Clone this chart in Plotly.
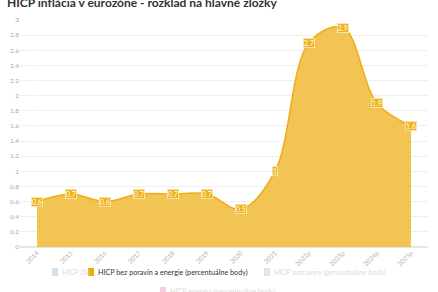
import plotly.graph_objects as go

categories = ["2014", "2015", "2016", "2017", "2018", "2019", "2020", "2021", "2022p", "2023p", "2024p", "2025p"]
core_values = [0.6, 0.7, 0.6, 0.7, 0.7, 0.7, 0.5, 1.0, 2.7, 2.9, 1.9, 1.6]
y_ticks = [0, 0.2, 0.4, 0.6, 0.8, 1, 1.2, 1.4, 1.6, 1.8, 2, 2.2, 2.4, 2.6, 2.8, 3]
y_tick_labels = ["0", "0.2", "0.4", "0.6", "0.8", "1", "1.2", "1.4", "1.6", "1.8", "2", "2.2", "2.4", "2.6", "2.8", "3"]

title_text = "HICP inflácia v eurozóne - rozklad na hlavné zložky"
legend_names = ["HICP (%)", "HICP bez poravín a energie (percentuálne body)",
                "HICP potraviny (percentuálne body)", "HICP energia (percentuálne body)"]
legend_colors = ["#cfe0ee", "#f0ad00", "#d8ecd2", "#f5cde3"]
legend_text_colors = ["#dcdcdc", "#333333", "#dcdcdc", "#dcdcdc"]

W, H = 438, 292
ML, MR, MT, MB = 20, 10, 20, 45
PW, PH = W - ML - MR, H - MT - MB

def px_x(px):
    return (px - ML) / PW

def px_y(py):
    return (H - MB - py) / PH

fig = go.Figure()

fig.add_trace(go.Scatter(x=list(range(len(categories))), y=core_values, name=legend_names[1],
                         mode="lines", line=dict(color="#f0ad12", width=1.5, shape="spline", smoothing=1.0),
                         fill="tozeroy", fillcolor="rgba(239,190,64,0.9)", showlegend=False,
                         hoverinfo="skip"))

for i, v in enumerate(core_values):
    fig.add_annotation(x=i, y=v, text=f"{v:g}", showarrow=False,
                       font=dict(size=7, color="white", family="Lato"),
                       bgcolor="#f0b21c", bordercolor="#f9e3a8", borderwidth=1, borderpad=0)

fig.add_annotation(x=px_x(5), y=px_y(2), xref="paper", yref="paper", xanchor="left", yanchor="middle",
                   text=f"<b>{title_text}</b>", showarrow=False,
                   font=dict(size=12, color="#333333", family="Lato"))

# custom legend (rows laid out like the reference)
legend_pos = [(52, 272), (88, 272), (264, 272), (160, 291)]
for name, col, tcol, (lx, ly) in zip(legend_names, legend_colors, legend_text_colors, legend_pos):
    fig.add_shape(type="rect", xref="paper", yref="paper",
                  x0=px_x(lx), x1=px_x(lx + 6), y0=px_y(ly + 4), y1=px_y(ly - 4),
                  fillcolor=col, line=dict(width=0))
    fig.add_annotation(x=px_x(lx + 7.5), y=px_y(ly), xref="paper", yref="paper",
                       xanchor="left", yanchor="middle", text=name, showarrow=False,
                       font=dict(size=7.2, color=tcol, family="Lato"))

fig.update_layout(
    width=W, height=H,
    margin=dict(l=ML, r=MR, t=MT, b=MB, autoexpand=False),
    paper_bgcolor="white", plot_bgcolor="white",
    font=dict(family="Lato", size=7, color="#aaaaaa"),
    showlegend=False,
    xaxis=dict(tickmode="array", tickvals=list(range(len(categories))), ticktext=categories,
               range=[-0.5, len(categories) - 0.5], tickangle=-45,
               showgrid=False, showline=False, ticks="", tickfont=dict(size=6.5, color="#b5b5b5")),
    yaxis=dict(range=[0, 3], tickvals=y_ticks, ticktext=y_tick_labels, showgrid=True,
               gridcolor="#efefef", gridwidth=1, zeroline=True, zerolinecolor="#e6e6e6",
               tickfont=dict(size=6.5, color="#aaaaaa"), ticks=""),
)

fig.write_html("out.html")
